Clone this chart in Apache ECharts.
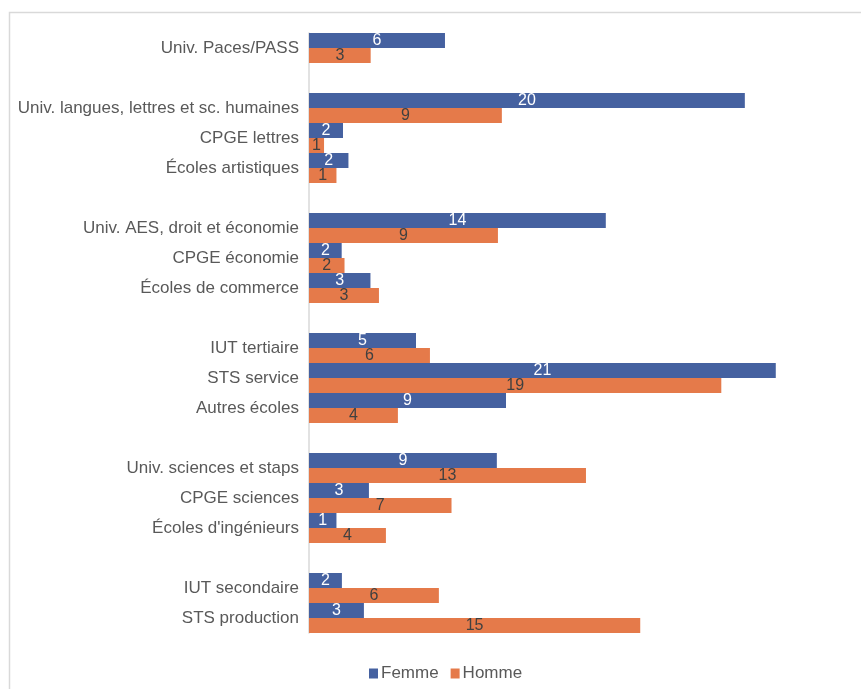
<!DOCTYPE html>
<html>
<head>
<meta charset="utf-8">
<script src="https://cdn.jsdelivr.net/npm/echarts@6/dist/echarts.min.js"></script>
<style>
html,body{margin:0;padding:0;background:#fff;}
#chart{width:861px;height:689px;}
</style>
</head>
<body>
<div id="chart"></div>
<script>
// Categories (empty strings are spacer rows between groups)
const categories = [
  "Univ. Paces/PASS", "",
  "Univ. langues, lettres et sc. humaines", "CPGE lettres", "Écoles artistiques", "",
  "Univ. AES, droit et économie", "CPGE économie", "Écoles de commerce", "",
  "IUT tertiaire", "STS service", "Autres écoles", "",
  "Univ. sciences et staps", "CPGE sciences", "Écoles d'ingénieurs", "",
  "IUT secondaire", "STS production"
];
const femme = [
  6.24, null,
  20.0, 1.56, 1.81, null,
  13.62, 1.5, 2.82, null,
  4.91, 21.42, 9.04, null,
  8.62, 2.75, 1.26, null,
  1.51, 2.52
];
const homme = [
  2.83, null,
  8.85, 0.69, 1.26, null,
  8.67, 1.63, 3.21, null,
  5.55, 18.92, 4.08, null,
  12.71, 6.54, 3.53, null,
  5.96, 15.2
];
const seriesNames = ["Femme", "Homme"];

const FONT = '"Liberation Sans", Arial, sans-serif';
const chart = echarts.init(document.getElementById('chart'), null, {renderer: 'canvas'});
chart.setOption({
  animation: false,
  backgroundColor: '#fff',
  graphic: [{
    type: 'rect', silent: true,
    shape: {x: 9.5, y: 12.5, width: 900, height: 700},
    style: {fill: 'none', stroke: '#d9d9d9', lineWidth: 1.5}
  }],
  legend: {
    left: 364, top: 660,
    itemWidth: 9, itemHeight: 10, itemGap: 12,
    icon: 'rect',
    textStyle: {color: '#595959', fontSize: 17, fontFamily: FONT, padding: [0, 0, 0, -2]},
    data: seriesNames
  },
  grid: {left: 309, top: 33, width: 523, height: 600, containLabel: false},
  xAxis: {
    type: 'value', min: 0, max: 24, show: false,
    splitLine: {show: false}
  },
  yAxis: {
    type: 'category', inverse: true, data: categories,
    axisLine: {show: true, lineStyle: {color: '#d9d9d9', width: 1.5}},
    axisTick: {show: false},
    axisLabel: {color: '#595959', fontSize: 17, fontFamily: FONT, margin: 10, interval: 0}
  },
  series: [
    {
      name: seriesNames[0], type: 'bar', data: femme,
      barGap: '0%', barCategoryGap: '0%',
      itemStyle: {color: '#4561a0'},
      label: {
        show: true, position: 'inside', color: '#ffffff', fontSize: 16, fontFamily: FONT,
        formatter: p => p.value == null ? '' : Math.round(p.value)
      }
    },
    {
      name: seriesNames[1], type: 'bar', data: homme,
      barGap: '0%', barCategoryGap: '0%',
      itemStyle: {color: '#e57a4a'},
      label: {
        show: true, position: 'inside', color: '#404040', fontSize: 16, fontFamily: FONT,
        formatter: p => p.value == null ? '' : Math.round(p.value)
      }
    }
  ]
});
</script>
</body>
</html>
